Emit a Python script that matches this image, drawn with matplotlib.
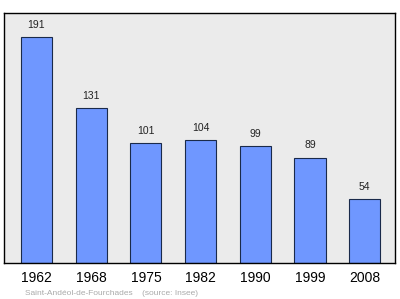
import matplotlib
matplotlib.use('Agg')
import matplotlib.pyplot as plt

plt.rcParams['font.family'] = ['Liberation Sans', 'DejaVu Sans']

years = ['1962', '1968', '1975', '1982', '1990', '1999', '2008']
population = [191, 131, 101, 104, 99, 89, 54]

fig = plt.figure(figsize=(4, 2.99), dpi=100)
ax = fig.add_axes([0.01, 0.1204, 0.9775, 0.836])
ax.set_facecolor('#ebebeb')

x = range(len(years))
ax.bar(x, population, width=0.567, color='#6f97ff', edgecolor='#1a2a4a', linewidth=0.8, zorder=2)
for i, v in enumerate(population):
    ax.text(i, v + 6, str(v), ha='center', va='bottom', fontsize=7.5, color='#222222')

ax.set_xlim(-0.594, 6.554)
ax.set_ylim(0, 211)
ax.set_yticks([])
ax.set_xticks(list(x))
ax.set_xticklabels(years, fontsize=10)
ax.tick_params(axis='x', length=0, pad=6)
for s in ax.spines.values():
    s.set_linewidth(1)

fig.text(0.0625, 0.013, 'Saint-Andéol-de-Fourchades    (source: Insee)', fontsize=6, color='#aaaaaa')

plt.savefig('out.png', dpi=100)
